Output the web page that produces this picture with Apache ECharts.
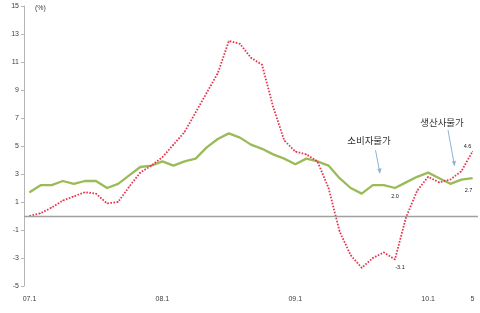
<!DOCTYPE html>
<html>
<head>
<meta charset="utf-8">
<script src="https://cdn.jsdelivr.net/npm/echarts@6/dist/echarts.min.js"></script>
<style>html,body{margin:0;padding:0;background:#fff}#c{width:480px;height:313px}</style>
</head>
<body>
<div id="c"></div>
<script>
// categories (monthly, 2007.1 - 2010.5)
var categories = ['07.1','2','3','4','5','6','7','8','9','10','11','12',
  '08.1','2','3','4','5','6','7','8','9','10','11','12',
  '09.1','2','3','4','5','6','7','8','9','10','11','12',
  '10.1','2','3','4','5'];
var xLabelIdx = [0, 12, 24, 36, 40];
var yTicks = [-5, -3, -1, 1, 3, 5, 7, 9, 11, 13, 15];
// 소비자물가 (CPI, %)
var cpi = [1.7,2.2,2.2,2.5,2.3,2.5,2.5,2.0,2.3,2.9,3.5,3.6,
  3.9,3.6,3.9,4.1,4.9,5.5,5.9,5.6,5.1,4.8,4.4,4.1,
  3.7,4.1,3.9,3.6,2.7,2.0,1.6,2.2,2.2,2.0,2.4,2.8,
  3.1,2.7,2.3,2.6,2.7];
// 생산자물가 (PPI, %)
var ppi = [0.0,0.2,0.6,1.1,1.4,1.7,1.6,0.9,1.0,2.1,3.1,3.6,
  4.2,5.1,6.0,7.4,8.8,10.2,12.5,12.3,11.3,10.8,7.8,5.4,
  4.6,4.4,3.9,2.0,-1.1,-2.8,-3.7,-3.0,-2.6,-3.1,-0.1,1.8,
  2.8,2.4,2.6,3.2,4.6];
var cpiName = '소비자물가';
var ppiName = '생산사물가';

var labelFont = 'Liberation Sans, Arial, sans-serif';
function withLabels(arr, offsets) {
  return arr.map(function (v, i) {
    if (offsets[i]) {
      return {value: v, label: {show: true, position: 'inside', offset: offsets[i],
        formatter: function (p) { return Number(p.value).toFixed(1); },
        fontSize: 5.5, color: '#222', fontFamily: labelFont}};
    }
    return v;
  });
}

var chart = echarts.init(document.getElementById('c'), null, {renderer: 'canvas'});
var arrowColor = '#8fb3d6';
chart.setOption({
  animation: false,
  backgroundColor: '#fff',
  grid: {left: 24, right: 2, top: 6, bottom: 27, containLabel: false},
  xAxis: {
    type: 'category', data: categories, boundaryGap: true,
    axisLine: {show: false}, axisTick: {show: false}, splitLine: {show: false},
    axisLabel: {
      interval: function (i) { return xLabelIdx.indexOf(i) >= 0; },
      fontSize: 7, color: '#404040', fontFamily: labelFont, margin: 10, hideOverlap: false
    }
  },
  yAxis: {
    type: 'value', min: -5, max: 15,
    axisLine: {show: true, lineStyle: {color: '#b5b5b5', width: 1}},
    axisTick: {show: true, length: 3, lineStyle: {color: '#b5b5b5'}, customValues: yTicks},
    axisLabel: {customValues: yTicks, fontSize: 7, color: '#404040', fontFamily: labelFont, margin: 5},
    splitLine: {show: false}
  },
  series: [
    {
      name: ppiName, type: 'line', data: withLabels(ppi, {33: [5, 8.5], 40: [-5, -5]}),
      symbol: 'circle', symbolSize: 1, showSymbol: true,
      itemStyle: {color: '#e6364e'},
      lineStyle: {color: '#e6364e', width: 1.8, type: [1.6, 1.5]},
      z: 3,
      markLine: {
        silent: true, symbol: 'none', label: {show: false},
        lineStyle: {color: '#a0a0a0', width: 1.3, type: 'solid'},
        data: [{yAxis: 0}]
      }
    },
    {
      name: cpiName, type: 'line', data: withLabels(cpi, {33: [0, 8], 40: [-4, 12]}),
      symbol: 'circle', symbolSize: 1, showSymbol: true,
      itemStyle: {color: '#9bbb59'},
      lineStyle: {color: '#9bbb59', width: 2.3, join: 'round'},
      z: 2
    }
  ],
  graphic: [
    {type: 'text', left: 35, top: 5, style: {text: '(%)', fontSize: 7, fill: '#404040', fontFamily: labelFont}},
    {type: 'text', x: 369, y: 140, style: {text: cpiName, fontSize: 9.5, fill: '#333', fontFamily: 'Noto Sans CJK KR', align: 'center', verticalAlign: 'middle'}},
    {type: 'text', x: 442, y: 122, style: {text: ppiName, fontSize: 9.5, fill: '#333', fontFamily: 'Noto Sans CJK KR', align: 'center', verticalAlign: 'middle'}},
    {type: 'line', shape: {x1: 375.5, y1: 150, x2: 379.5, y2: 171}, style: {stroke: arrowColor, lineWidth: 1}},
    {type: 'polygon', shape: {points: [[380, 174], [377.3, 169], [381.5, 168.3]]}, style: {fill: arrowColor}},
    {type: 'line', shape: {x1: 448, y1: 130, x2: 454, y2: 163}, style: {stroke: arrowColor, lineWidth: 1}},
    {type: 'polygon', shape: {points: [[454.6, 166.5], [451.8, 161.5], [456, 160.8]]}, style: {fill: arrowColor}}
  ]
});
</script>
</body>
</html>
